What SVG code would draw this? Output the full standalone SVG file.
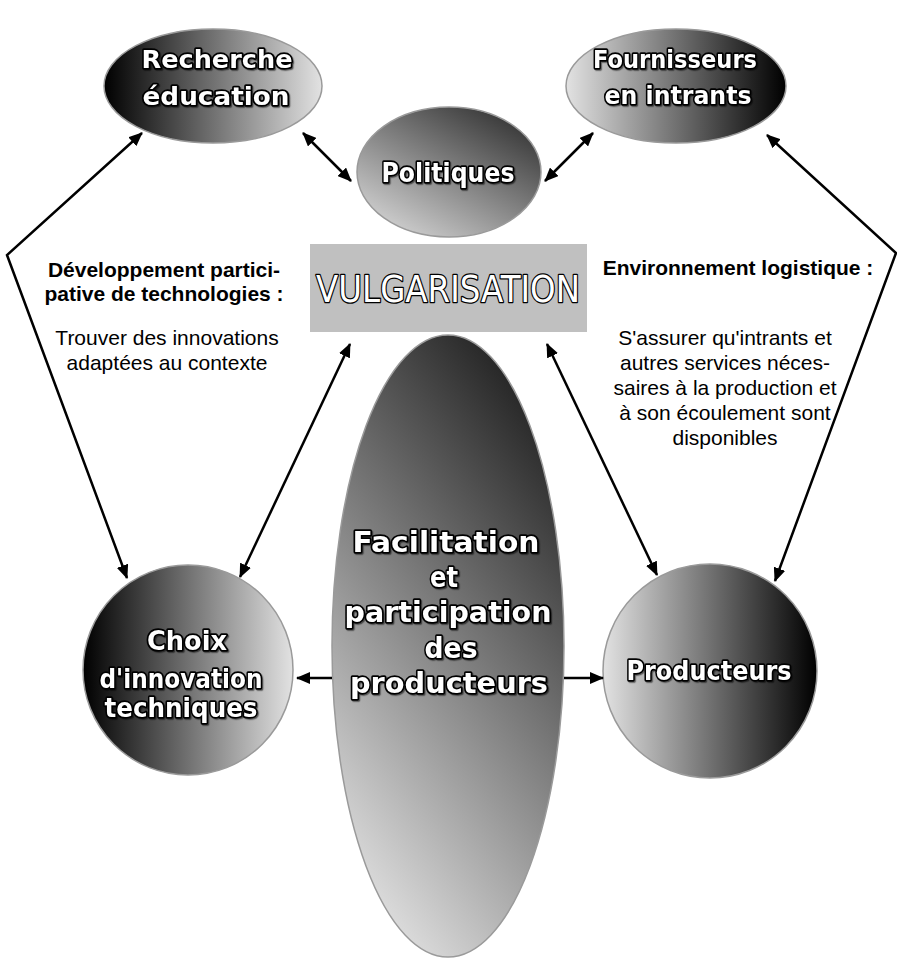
<svg xmlns="http://www.w3.org/2000/svg" width="897" height="966" viewBox="0 0 897 966">
<defs>
<linearGradient id="gL2R" x1="0" y1="0" x2="1" y2="0"><stop offset="0" stop-color="#000"/><stop offset="1" stop-color="#e2e2e2"/></linearGradient>
<linearGradient id="gR2L" x1="0" y1="0" x2="1" y2="0"><stop offset="0" stop-color="#e2e2e2"/><stop offset="1" stop-color="#000"/></linearGradient>
<linearGradient id="gPol" x1="0.1" y1="1" x2="0.9" y2="0"><stop offset="0" stop-color="#dcdcdc"/><stop offset="1" stop-color="#2a2a2a"/></linearGradient>
<linearGradient id="gCen" x1="0.75" y1="0" x2="0.25" y2="1"><stop offset="0" stop-color="#1e1e1e"/><stop offset="1" stop-color="#e4e4e4"/></linearGradient>
<filter id="sh" x="-10%" y="-20%" width="120%" height="150%"><feDropShadow dx="1.2" dy="1.2" stdDeviation="0.4" flood-color="#000" flood-opacity="0.5"/></filter>
<marker id="ah" viewBox="0 0 14 12" refX="13" refY="6" markerWidth="14" markerHeight="12" markerUnits="userSpaceOnUse" orient="auto-start-reverse"><path d="M0,0 L14,6 L0,12 z" fill="#000"/></marker>
<style>
.node{stroke:#9a9a9a;stroke-width:1.5}
.nt{font-family:"DejaVu Sans",sans-serif;font-weight:bold;fill:#fff;stroke:#000;stroke-width:3.4;paint-order:stroke;stroke-linejoin:round;text-anchor:middle;filter:url(#sh)}
.vt{font-family:"DejaVu Sans",sans-serif;font-size:37px;fill:#fff;stroke:#000;stroke-width:2.6;paint-order:stroke;stroke-linejoin:round;text-anchor:middle}
.lb{font-family:"Liberation Sans",Arial,sans-serif;font-size:21px;fill:#000;text-anchor:middle}
.b{font-weight:bold}
.cn{fill:none;stroke:#000;stroke-width:2.5;marker-start:url(#ah);marker-end:url(#ah)}
.cn1{fill:none;stroke:#000;stroke-width:2.5;marker-end:url(#ah)}
</style>
</defs>
<rect width="897" height="966" fill="#fff"/>

<g id="vulgarisation">
<rect x="310" y="244" width="277" height="88" fill="#c0c0c0"/>
<text class="vt" x="448" y="302" textLength="264" lengthAdjust="spacingAndGlyphs">VULGARISATION</text>
</g>

<g id="recherche">
<ellipse class="node" cx="213" cy="86" rx="109" ry="57" fill="url(#gL2R)"/>
<text class="nt" font-size="25"><tspan x="217" y="68" textLength="151" lengthAdjust="spacingAndGlyphs">Recherche</tspan><tspan x="216" y="105" textLength="147" lengthAdjust="spacingAndGlyphs">éducation</tspan></text>
</g>

<g id="fournisseurs">
<ellipse class="node" cx="676" cy="86" rx="110" ry="57" fill="url(#gR2L)"/>
<text class="nt" font-size="25"><tspan x="675" y="68" textLength="164" lengthAdjust="spacingAndGlyphs">Fournisseurs</tspan><tspan x="678" y="104" textLength="147" lengthAdjust="spacingAndGlyphs">en intrants</tspan></text>
</g>

<g id="politiques">
<ellipse class="node" cx="449" cy="172" rx="92" ry="65" fill="url(#gPol)"/>
<text class="nt" font-size="27" x="448" y="182" textLength="133" lengthAdjust="spacingAndGlyphs">Politiques</text>
</g>

<g id="facilitation">
<ellipse class="node" cx="448" cy="646" rx="116" ry="311" fill="url(#gCen)"/>
<text class="nt" font-size="29"><tspan x="446" y="552" textLength="187" lengthAdjust="spacingAndGlyphs">Facilitation</tspan><tspan x="444" y="587" textLength="28" lengthAdjust="spacingAndGlyphs">et</tspan><tspan x="448" y="622" textLength="207" lengthAdjust="spacingAndGlyphs">participation</tspan><tspan x="451" y="658" textLength="53" lengthAdjust="spacingAndGlyphs">des</tspan><tspan x="449" y="693" textLength="198" lengthAdjust="spacingAndGlyphs">producteurs</tspan></text>
</g>

<g id="choix">
<circle class="node" cx="188" cy="670" r="105" fill="url(#gL2R)"/>
<text class="nt" font-size="26"><tspan x="187" y="650" textLength="80" lengthAdjust="spacingAndGlyphs">Choix</tspan><tspan x="181" y="688" textLength="163" lengthAdjust="spacingAndGlyphs">d'innovation</tspan><tspan x="181" y="717" textLength="153" lengthAdjust="spacingAndGlyphs">techniques</tspan></text>
</g>

<g id="producteurs">
<circle class="node" cx="710" cy="671" r="107" fill="url(#gR2L)"/>
<text class="nt" font-size="26" x="709" y="680" textLength="165" lengthAdjust="spacingAndGlyphs">Producteurs</text>
</g>

<g id="label-left">
<text class="lb b"><tspan x="164" y="277">Développement partici-</tspan><tspan x="164" y="301">pative de technologies :</tspan></text>
<text class="lb"><tspan x="167" y="345">Trouver des innovations</tspan><tspan x="167" y="370">adaptées au contexte</tspan></text>
</g>

<g id="label-right">
<text class="lb b" x="738" y="275">Environnement logistique :</text>
<text class="lb"><tspan x="725" y="345">S'assurer qu'intrants et</tspan><tspan x="725" y="370">autres services néces-</tspan><tspan x="725" y="395">saires à la production et</tspan><tspan x="725" y="420">à son écoulement sont</tspan><tspan x="725" y="445">disponibles</tspan></text>
</g>

<g id="connectors">
<polyline class="cn" points="142,133 7,255 127,578"/>
<line class="cn" x1="350" y1="344" x2="240" y2="577"/>
<line class="cn" x1="303" y1="133" x2="351" y2="181"/>
<line class="cn" x1="545" y1="181" x2="593" y2="133"/>
<polyline class="cn" points="767,135 896,253 775,581"/>
<line class="cn" x1="547" y1="344" x2="657" y2="575"/>
<line class="cn1" x1="332" y1="678" x2="297" y2="678"/>
<line class="cn1" x1="564" y1="678" x2="603" y2="678"/>
</g>
</svg>
